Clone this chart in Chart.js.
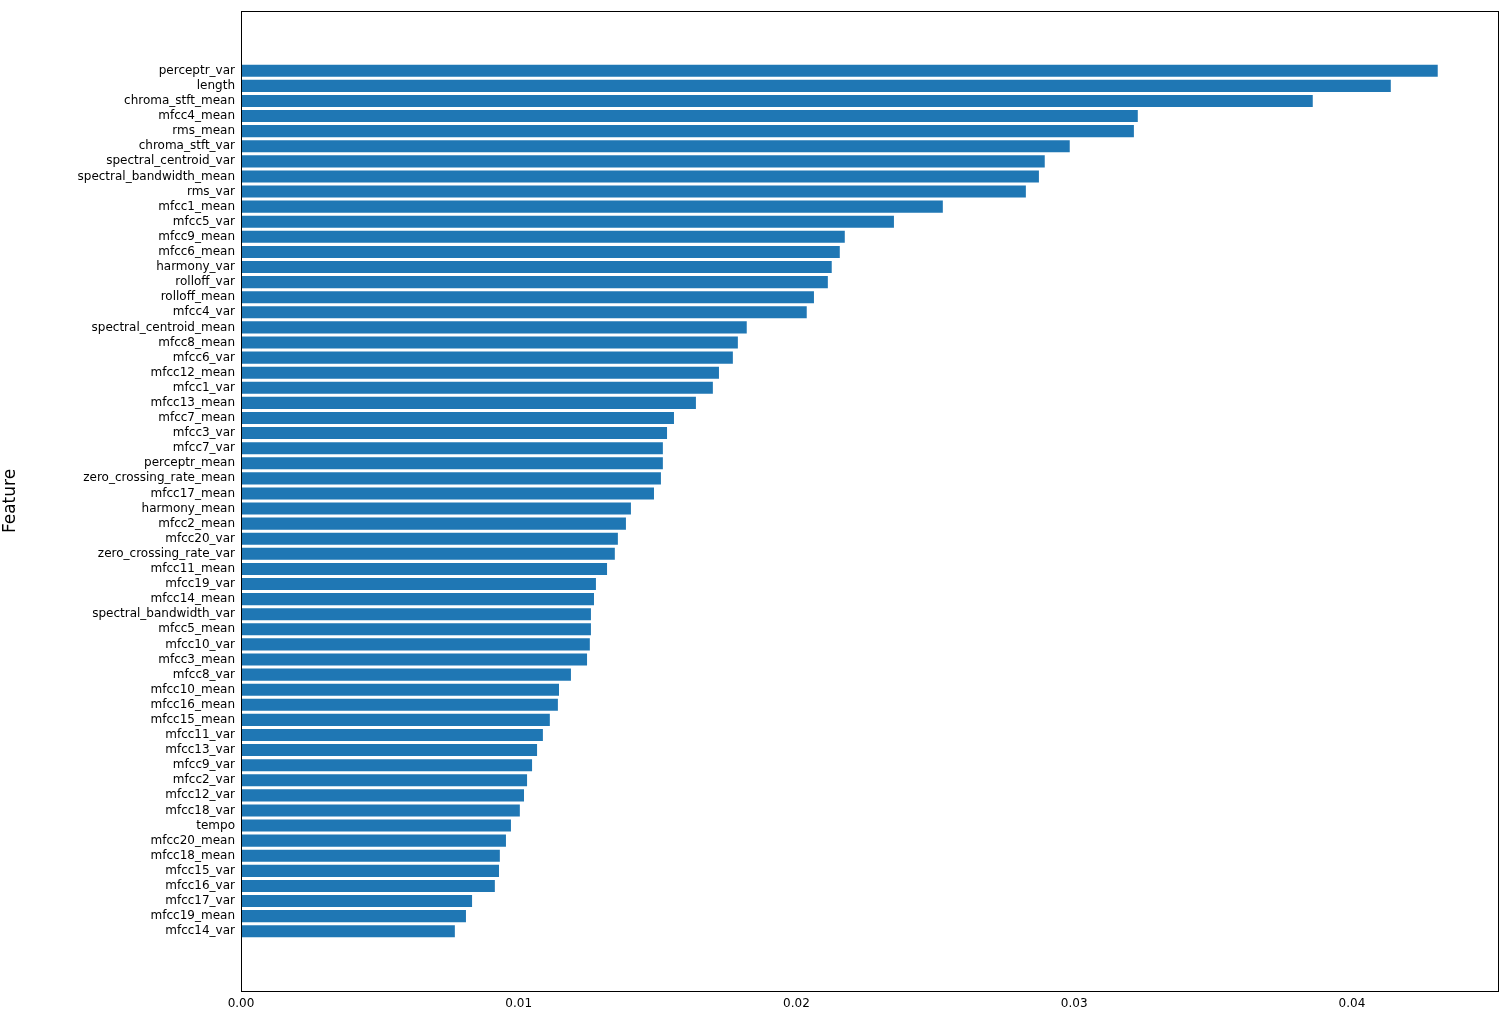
<!DOCTYPE html>
<html><head><meta charset="utf-8">
<script src="https://cdn.jsdelivr.net/npm/chart.js@4/dist/chart.umd.min.js"></script>
<style>body{margin:0;background:#fff}</style>
</head><body>
<canvas id="c" width="1510" height="1021"></canvas>
<script>
const features = ["perceptr_var","length","chroma_stft_mean","mfcc4_mean","rms_mean","chroma_stft_var","spectral_centroid_var","spectral_bandwidth_mean","rms_var","mfcc1_mean","mfcc5_var","mfcc9_mean","mfcc6_mean","harmony_var","rolloff_var","rolloff_mean","mfcc4_var","spectral_centroid_mean","mfcc8_mean","mfcc6_var","mfcc12_mean","mfcc1_var","mfcc13_mean","mfcc7_mean","mfcc3_var","mfcc7_var","perceptr_mean","zero_crossing_rate_mean","mfcc17_mean","harmony_mean","mfcc2_mean","mfcc20_var","zero_crossing_rate_var","mfcc11_mean","mfcc19_var","mfcc14_mean","spectral_bandwidth_var","mfcc5_mean","mfcc10_var","mfcc3_mean","mfcc8_var","mfcc10_mean","mfcc16_mean","mfcc15_mean","mfcc11_var","mfcc13_var","mfcc9_var","mfcc2_var","mfcc12_var","mfcc18_var","tempo","mfcc20_mean","mfcc18_mean","mfcc15_var","mfcc16_var","mfcc17_var","mfcc19_mean","mfcc14_var"];
const importance = [0.04309,0.04140,0.03859,0.03229,0.03215,0.02984,0.02894,0.02873,0.02826,0.02527,0.02351,0.02174,0.02156,0.02127,0.02113,0.02063,0.02037,0.01821,0.01789,0.01771,0.01721,0.01699,0.01638,0.01559,0.01534,0.01519,0.01519,0.01512,0.01487,0.01404,0.01386,0.01357,0.01346,0.01318,0.01278,0.01271,0.01260,0.01260,0.01256,0.01246,0.01188,0.01145,0.01141,0.01112,0.01087,0.01066,0.01048,0.01030,0.01019,0.01004,0.00972,0.00954,0.00932,0.00929,0.00914,0.00832,0.00810,0.00770];
const xTicks = [0,0.01,0.02,0.03,0.04];

const frame = {id:'frame', afterDraw(ch){const a=ch.chartArea,c=ch.ctx;c.save();c.strokeStyle='#000';c.lineWidth=1;c.strokeRect(a.left+0.5,a.top+0.5,a.right-a.left,a.bottom-a.top);c.restore();}};
Chart.defaults.font.family = 'DejaVu Sans';
Chart.defaults.color = '#000';
new Chart(document.getElementById('c'), {
  type:'bar',
  data:{datasets:[{data:importance.map((v,i)=>({x:v,y:i})),backgroundColor:'#1f77b4',barPercentage:0.8,categoryPercentage:1}]},
  options:{
    indexAxis:'y',responsive:false,animation:false,
    layout:{padding:{top:11,right:12,left:0,bottom:0}},
    plugins:{legend:{display:false},tooltip:{enabled:false}},
    scales:{
      x:{type:'linear',min:0,max:0.04526,
        afterBuildTicks:s=>{s.ticks=xTicks.map(v=>({value:v}));},
        afterFit:s=>{s.height=30;},
        grid:{display:false,drawTicks:true,tickLength:4,color:'#000'},border:{display:true,color:'#000'},
        ticks:{font:{size:12},padding:2,callback:v=>v.toFixed(2)}},
      y:{type:'linear',reverse:true,min:-3.4,max:60.4,
        afterBuildTicks:s=>{s.ticks=features.map((f,i)=>({value:i}));},
        afterFit:s=>{s.width=241;},
        grid:{display:false,drawTicks:true,tickLength:4,color:'#000'},border:{display:true,color:'#000'},
        ticks:{autoSkip:false,font:{size:12},padding:2,callback:v=>features[v]},
        title:{display:true,text:'Feature',font:{size:17},padding:{top:0,bottom:4}}}
    }
  },
  plugins:[frame]
});
</script>
</body></html>
